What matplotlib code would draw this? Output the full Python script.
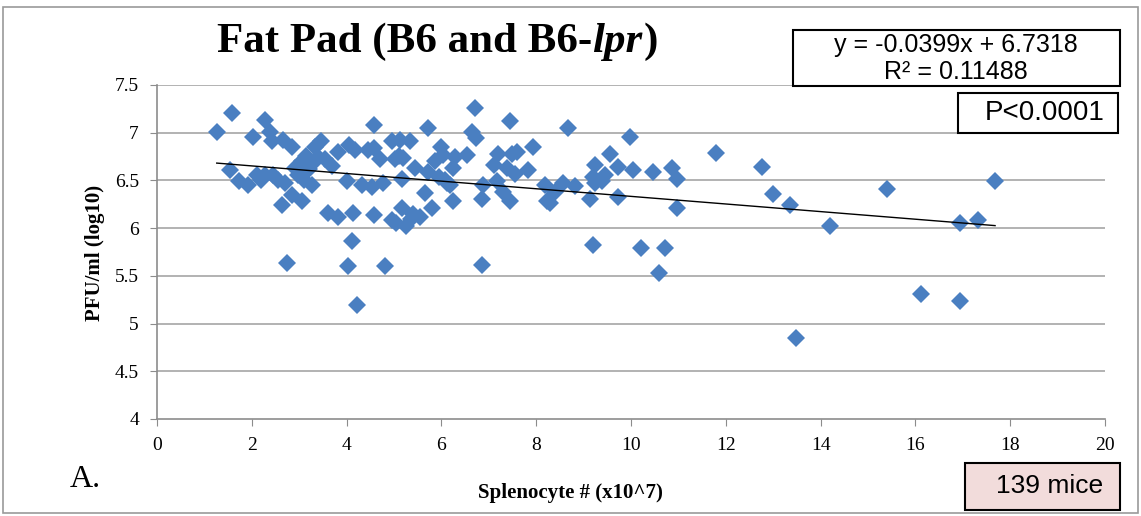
import matplotlib.pyplot as plt
from matplotlib.patches import Rectangle
import numpy as np

# splenocyte count (x10^7) and PFU/ml (log10)
spleno = [1.26, 1.58, 1.54, 1.72, 1.93, 2.03, 2.10, 2.28, 2.38, 2.28, 2.42, 2.45, 2.20,
          2.66, 2.84, 2.70, 2.84, 2.63, 2.91, 2.74, 2.98, 3.05, 3.26, 3.10, 3.05, 3.15,
          3.33, 3.47, 3.30, 3.55, 3.82, 3.61, 3.82, 4.04, 4.18, 4.00, 4.14, 4.11, 4.02,
          4.21, 4.32, 4.57, 4.57, 4.53, 4.57, 4.70, 4.77, 4.81, 4.95, 5.02, 4.95, 5.13,
          5.34, 5.10, 5.20, 5.16, 5.16, 5.05, 5.25, 5.35, 5.55, 5.44, 5.72, 5.72, 5.65,
          5.80, 5.87, 5.94, 6.00, 6.11, 6.25, 6.29, 6.25, 6.53, 6.71, 6.64, 6.74, 6.85,
          6.88, 6.85, 7.10, 7.20, 7.17, 7.30, 7.38, 7.45, 7.48, 7.45, 7.55, 7.60, 7.83,
          7.94, 8.19, 8.22, 8.40, 8.57, 8.68, 8.82, 9.13, 9.20, 9.24, 9.24, 9.45, 9.20,
          9.56, 9.73, 9.73, 9.98, 10.05, 10.20, 10.47, 10.59, 10.72, 10.86, 10.96, 10.96,
          11.79, 12.76, 13.00, 13.35, 13.47, 14.20, 15.39, 16.12, 16.94, 16.94, 17.33,
          17.68, 3.40, 3.70, 6.07, 6.18, 5.40, 8.29, 9.38, 2.55, 4.45, 3.20, 6.04]
pfu = [7.01, 7.21, 6.61, 6.49, 6.45, 6.96, 6.56, 7.13, 7.01, 6.56, 6.91, 6.56, 6.50,
       6.92, 6.85, 6.47, 6.35, 6.24, 6.63, 5.63, 6.56, 6.28, 6.45, 6.50, 6.70, 6.76,
       6.85, 6.91, 6.68, 6.72, 6.80, 6.16, 6.12, 6.87, 6.82, 6.49, 6.16, 5.86, 5.60,
       5.19, 6.45, 7.08, 6.84, 6.43, 6.14, 6.72, 6.47, 5.60, 6.91, 6.72, 6.09, 6.92,
       6.91, 6.76, 6.74, 6.52, 6.21, 6.05, 6.02, 6.10, 6.12, 6.63, 7.05, 6.59, 6.37,
       6.21, 6.70, 6.54, 6.85, 6.47, 6.63, 6.75, 6.28, 6.77, 7.26, 7.01, 6.94, 6.31,
       6.45, 5.61, 6.66, 6.78, 6.49, 6.38, 6.63, 7.12, 6.78, 6.28, 6.57, 6.80, 6.61,
       6.85, 6.45, 6.28, 6.38, 6.47, 7.05, 6.44, 6.31, 6.54, 6.66, 6.47, 6.56, 5.82,
       6.78, 6.64, 6.33, 6.96, 6.61, 5.79, 6.59, 5.53, 5.79, 6.63, 6.51, 6.21,
       6.79, 6.64, 6.36, 6.24, 4.85, 6.02, 6.41, 5.31, 6.05, 5.24, 6.09,
       6.49, 6.75, 6.65, 6.50, 6.45, 6.15, 6.26, 6.49, 6.50, 6.82, 6.62, 6.77]

slope, intercept = -0.0399, 6.7318
eq_text = "y = -0.0399x + 6.7318"
r2_text = "R² = 0.11488"
p_text = "P<0.0001"
n_text = "139 mice"

xticks = list(range(0, 21, 2))
yticks = [4, 4.5, 5, 5.5, 6, 6.5, 7, 7.5]
ytick_labels = ["4", "4.5", "5", "5.5", "6", "6.5", "7", "7.5"]

serif = "Liberation Serif"

fig = plt.figure(figsize=(11.41, 5.16), dpi=100)
ax = fig.add_axes([0.1376, 0.188, 0.8309, 0.6473])

ax.set_xlim(0, 20)
ax.set_ylim(4, 7.5)
for yv in yticks[1:]:
    ax.axhline(yv, color="#a6a6a6", lw=1.2, zorder=1)

ax.plot(spleno, pfu, "D", color="#4a7fc1", markersize=9.5, markeredgewidth=0, zorder=3)

xs = np.array([min(spleno), max(spleno)])
ax.plot(xs, slope * xs + intercept, color="black", lw=1, zorder=4)

for s in ["top", "right"]:
    ax.spines[s].set_visible(False)
ax.spines["left"].set_color("#8c8c8c")
ax.spines["bottom"].set_color("#8c8c8c")
ax.spines["left"].set_linewidth(1.2)
ax.spines["bottom"].set_linewidth(1.2)

ax.set_xticks(xticks)
ax.set_xticklabels([str(t) for t in xticks], fontfamily=serif, fontsize=14)
ax.set_yticks(yticks)
ax.set_yticklabels(ytick_labels, fontfamily=serif, fontsize=14)
ax.tick_params(axis="both", direction="out", length=5, color="#8c8c8c", pad=8)

# title with italic lpr
fig.canvas.draw()
r = fig.canvas.get_renderer()
t1 = fig.text(0.19, 0.9, "Fat Pad (B6 and B6-", fontfamily=serif, fontweight="bold",
              fontsize=31, va="baseline", ha="left")
bb = t1.get_window_extent(r)
t2 = fig.text(bb.x1 / fig.bbox.width, 0.9, "lpr", fontfamily=serif, fontweight="bold",
              fontstyle="italic", fontsize=31, va="baseline", ha="left")
bb2 = t2.get_window_extent(r)
fig.text(bb2.x1 / fig.bbox.width + 0.001, 0.9, ")", fontfamily=serif, fontweight="bold",
         fontsize=31, va="baseline", ha="left")

fig.text(0.083, 0.51, "PFU/ml (log10)", rotation=90, fontfamily=serif, fontweight="bold",
         fontsize=15, ha="center", va="center")
fig.text(0.50, 0.045, "Splenocyte # (x10^7)", fontfamily=serif, fontweight="bold",
         fontsize=15, ha="center", va="center")
fig.text(0.061, 0.07, "A.", fontfamily=serif, fontsize=23, ha="left", va="center")

# boxes
W, H = 1141, 516
def box(x0, y0, x1, y1, fc="white"):
    fig.patches.append(Rectangle((x0 / W, 1 - y1 / H), (x1 - x0) / W, (y1 - y0) / H,
                                 transform=fig.transFigure, fc=fc, ec="black", lw=1.5,
                                 zorder=5))

box(793, 30, 1120, 86)
fig.text(956 / W, 1 - 45 / H, eq_text, fontfamily="Liberation Sans",
         fontsize=18, ha="center", va="center", zorder=6)
fig.text(956 / W, 1 - 72 / H, r2_text, fontfamily="Liberation Sans",
         fontsize=18, ha="center", va="center", zorder=6)
box(958, 93, 1118, 133)
fig.text(1045 / W, 1 - 113 / H, p_text, fontfamily="Liberation Sans",
         fontsize=20, ha="center", va="center", zorder=6)
box(965, 463, 1120, 510, fc="#f2dcdb")
fig.text(1050 / W, 1 - 486 / H, n_text, fontfamily="Liberation Sans",
         fontsize=19, ha="center", va="center", zorder=6)

# outer frame
fig.patches.append(Rectangle((3 / W, 3 / H), 1 - 6 / W, 1 - 10 / H, transform=fig.transFigure,
                             fill=False, ec="#9a9a9a", lw=1.2))

fig.savefig("out.png", dpi=100)
